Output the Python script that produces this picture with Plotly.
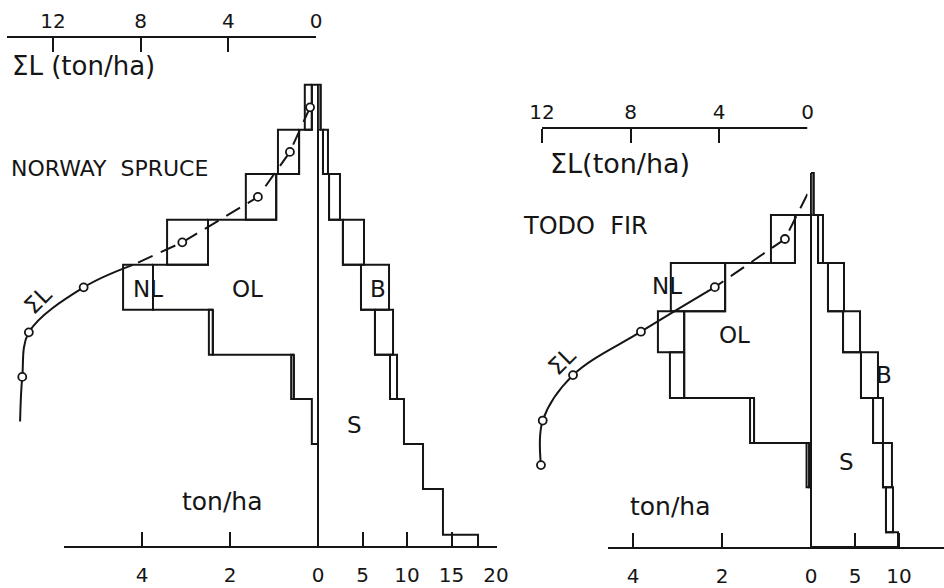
import plotly.graph_objects as go

W, H = 944, 588

# ---------------- data ----------------
# heights (m above the base line) of the top of each canopy layer, top -> bottom
spruce_layer_top = [10.27, 9.27, 8.29, 7.27, 6.27, 5.27, 4.27, 3.29, 2.29, 1.29, 0.27]
spruce_OL = [0.14, 0.43, 0.95, 2.50, 3.75, 2.39, 0.55, 0.14, 0, 0, 0]      # old leaves, ton/ha
spruce_NL = [0.16, 0.48, 0.69, 0.93, 0.68, 0.09, 0.06, 0, 0, 0, 0]         # new leaves, ton/ha
spruce_S = [0.30, 0.56, 1.24, 2.80, 4.83, 6.40, 8.09, 9.66, 11.80, 14.04, 17.98]  # stem
spruce_B = [0, 0.56, 1.23, 2.37, 3.15, 2.03, 0.79, 0, 0, 0, 0]             # branches
spruce_sumL = [0.27, 1.19, 2.65, 6.10, 10.60, 13.10, 13.40, 13.50]         # cumulative leaves
spruce_sumL_marked = [True, True, True, True, True, True, True, False]

fir_layer_top = [8.31, 7.38, 6.31, 5.24, 4.33, 3.31, 2.31, 1.33, 0.33]
fir_OL = [0, 0.36, 1.93, 2.85, 2.85, 1.28, 0.04, 0, 0]
fir_NL = [0, 0.54, 1.22, 0.59, 0.32, 0.09, 0.06, 0, 0]
fir_S = [0.30, 0.80, 1.93, 3.64, 5.68, 7.05, 8.18, 8.52, 9.89]
fir_B = [0, 0.56, 1.82, 1.93, 1.93, 1.13, 1.02, 0.80, 0]
fir_sumL = [0, 1.02, 4.19, 7.53, 10.60, 11.97, 12.05]
fir_sumL_marked = [False, True, True, True, True, True, True]

leaf_ticks = [0, 2, 4]
spruce_stem_ticks = [5, 10, 15, 20]
fir_stem_ticks = [5, 10]
sumL_ticks = [0, 4, 8, 12]

INK = "#151515"
FONT = "DejaVu Sans"


def bottoms(tops):
    return tops[1:] + [0.0]


def mids(tops):
    return [(t + b) / 2 for t, b in zip(tops, bottoms(tops))]


def step_outline(vals, tops):
    bots = bottoms(tops)
    xs, ys = [0], [tops[0]]
    for v, t, b in zip(vals, tops, bots):
        xs += [v, v]
        ys += [t, b]
    xs.append(0)
    ys.append(bots[-1])
    return xs, ys


def boxes(base, width, tops):
    bots = bottoms(tops)
    xs, ys = [], []
    for a, w, t, b in zip(base, width, tops, bots):
        if w > 0:
            xs += [a, a + w, a + w, a, a, None]
            ys += [t, t, b, b, t, None]
    return xs, ys


fig = go.Figure()


def line(xs, ys, xa, width=2, dash="solid", shape="linear"):
    fig.add_trace(go.Scatter(x=xs, y=ys, xaxis=xa, yaxis="y", mode="lines",
                             line=dict(color=INK, width=width, dash=dash, shape=shape),
                             hoverinfo="skip", showlegend=False))


def panel(tops, OL, NL, S, B, sumL, marked, leaf_ax, stem_ax, sum_ax, dash_until, split_mid):
    # centre line
    line([0, 0], [0, tops[0]], stem_ax, width=2)
    # leaves
    xs, ys = step_outline(OL, tops)
    line(xs, ys, leaf_ax)
    xs, ys = boxes(OL, NL, tops)
    line(xs, ys, leaf_ax)
    # stem + branches
    xs, ys = step_outline(S, tops)
    line(xs, ys, stem_ax)
    xs, ys = boxes(S, B, tops)
    line(xs, ys, stem_ax)
    # shaded top stem piece
    t0, b0 = tops[0], bottoms(tops)[0]
    fig.add_trace(go.Scatter(x=[0, S[0], S[0], 0, 0], y=[t0, t0, b0, b0, t0],
                             xaxis=stem_ax, yaxis="y", mode="lines", fill="toself",
                             fillcolor="#7a7a7a", line=dict(color=INK, width=1.5),
                             hoverinfo="skip", showlegend=False))
    # cumulative leaf curve
    ym = mids(tops)[:len(sumL)]
    k = dash_until
    dx, dy = list(sumL[:k + 1]), list(ym[:k + 1])
    sx, sy = list(sumL[k:]), list(ym[k:])
    if split_mid:
        mx = (sumL[k] + sumL[k + 1]) / 2
        my = (ym[k] + ym[k + 1]) / 2
        dx.append(mx)
        dy.append(my)
        sx[0], sy[0] = mx, my
    line(dx, dy, sum_ax, width=2, dash="16px,9px")
    line(sx, sy, sum_ax, width=2, shape="spline")
    mxs = [v for v, m in zip(sumL, marked) if m]
    mys = [y for y, m in zip(ym, marked) if m]
    fig.add_trace(go.Scatter(x=mxs, y=mys, xaxis=sum_ax, yaxis="y", mode="markers",
                             marker=dict(symbol="circle", size=8, color="white",
                                         line=dict(color=INK, width=1.8)),
                             cliponaxis=False,
                             hoverinfo="skip", showlegend=False))


panel(spruce_layer_top, spruce_OL, spruce_NL, spruce_S, spruce_B, spruce_sumL,
      spruce_sumL_marked, "x", "x2", "x3", dash_until=3, split_mid=True)
panel(fir_layer_top, fir_OL, fir_NL, fir_S, fir_B, fir_sumL,
      fir_sumL_marked, "x4", "x5", "x6", dash_until=2, split_mid=False)


def fx(p):
    return p / W


def fy(p):
    return 1 - p / H


tickfont = dict(family=FONT, size=20, color=INK)


def axis(dom, rng, tickvals, pos_px, side="bottom", standoff=10, showline=True):
    return dict(domain=[fx(dom[0]), fx(dom[1])], range=rng, anchor="free",
                position=fy(pos_px), side=side, showline=showline, linecolor=INK,
                linewidth=2, ticks="inside", ticklen=14, tickwidth=2, tickcolor=INK,
                tickvals=tickvals, ticktext=[str(v) for v in tickvals],
                tickfont=tickfont, showgrid=False, zeroline=False,
                ticklabelstandoff=standoff, automargin=False, fixedrange=True)


BASE = 547
PAD = 3  # px of extra room around the centre line so it is not clipped
fig.update_layout(
    width=W, height=H,
    margin=dict(l=0, r=0, t=0, b=0),
    paper_bgcolor="white", plot_bgcolor="rgba(0,0,0,0)",
    showlegend=False,
    yaxis=dict(domain=[0, 1], range=[(BASE - H) / 45, BASE / 45], visible=False,
               fixedrange=True),
    xaxis=axis((64, 318 + PAD), [(318 - 64) / 44, -PAD / 44], leaf_ticks, BASE),
    xaxis2=axis((318 - PAD, 497), [-PAD / 8.9, (497 - 318) / 8.9], spruce_stem_ticks, BASE),
    xaxis3=axis((7, 316), [(316 - 7) / 21.92, 0], sumL_ticks, 37, side="top", standoff=0),
    xaxis4=axis((608, 811 + PAD), [(811 - 608) / 44.5, -PAD / 44.5], leaf_ticks, BASE + 1),
    xaxis5=axis((811 - PAD, 944), [-PAD / 8.8, (944 - 811) / 8.8], fir_stem_ticks, BASE + 1),
    xaxis6=axis((520, 807.5), [(807.5 - 520) / 22.12, 0], sumL_ticks, 128, side="top",
                standoff=5, showline=False),
)

# axis line of the fir ΣL scale, drawn only between 12 and 0
fig.add_shape(type="line", xref="x6", yref="paper", x0=max(sumL_ticks), x1=0,
              y0=fy(128), y1=fy(128), line=dict(color=INK, width=2))

ann = []


def text(s, x, y, size=23, xanchor="center", angle=0):
    ann.append(dict(text=s, x=fx(x), y=fy(y), xref="paper", yref="paper",
                    xanchor=xanchor, yanchor="middle", showarrow=False, textangle=angle,
                    font=dict(family=FONT, size=size, color=INK)))


# left panel labels
text("ΣL (ton/ha)", 10, 66, size=26, xanchor="left")
text("NORWAY  SPRUCE", 9, 169, size=22, xanchor="left")
text("NL", 148, 289)
text("OL", 247, 289)
text("B", 378, 289)
text("S", 354, 425)
text("ton/ha", 222, 502, size=25)
text("ΣL", 38, 300, size=23, angle=-45)
# right panel labels
text("ΣL(ton/ha)", 548, 163, size=27, xanchor="left")
text("TODO  FIR", 521, 226, size=24, xanchor="left")
text("NL", 667, 286)
text("OL", 734, 335)
text("B", 884, 375)
text("S", 846, 462)
text("ton/ha", 670, 506, size=25)
text("ΣL", 562, 361, size=23, angle=-45)

fig.update_layout(annotations=ann)

fig.write_html("out.html",
               config={"displayModeBar": False, "staticPlot": True},
               post_script="document.body.style.margin='0';"
                           "document.body.style.overflow='hidden';")
